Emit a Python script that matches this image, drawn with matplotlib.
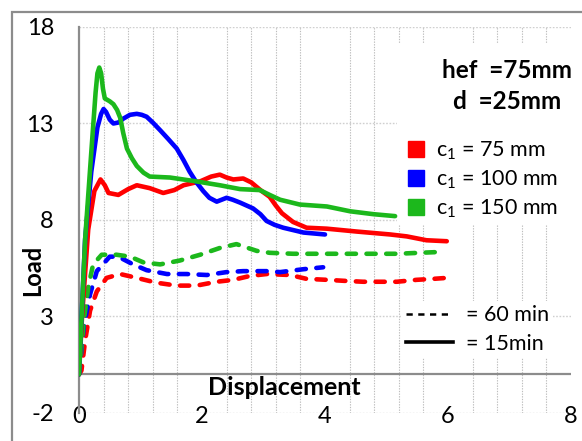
import matplotlib
matplotlib.use("Agg")
import matplotlib.pyplot as plt
from matplotlib.lines import Line2D
from matplotlib.patches import Rectangle

plt.rcParams['font.family'] = ['Lato', 'DejaVu Sans']
plt.rcParams['axes.unicode_minus'] = False

# --- data ---
# 15 min curves (solid)
x_red_15 = [0, 0.05, 0.15, 0.25, 0.35, 0.42, 0.48, 0.64, 0.8, 0.94, 1.15, 1.37, 1.55, 1.7, 1.97, 2.15, 2.29,
            2.4, 2.51, 2.67, 2.8, 2.95, 3.1, 3.2, 3.3, 3.48, 3.7, 4.03, 4.52, 5.06, 5.33, 5.65, 5.98]
y_red_15 = [0, 3, 7.5, 9.5, 10.1, 9.8, 9.4, 9.3, 9.6, 9.8, 9.65, 9.4, 9.55, 9.8, 10.0, 10.25, 10.35,
            10.2, 10.1, 10.15, 9.95, 9.55, 9.2, 8.75, 8.35, 7.9, 7.6, 7.55, 7.4, 7.25, 7.15, 6.95, 6.9]

x_blue_15 = [0, 0.1, 0.2, 0.3, 0.36, 0.4, 0.44, 0.5, 0.56, 0.64, 0.72, 0.83, 0.94, 1.02, 1.10, 1.2, 1.32,
             1.45, 1.59, 1.70, 1.80, 1.91, 2.02, 2.12, 2.24, 2.32, 2.40, 2.5, 2.62, 2.83, 2.95, 3.05,
             3.18, 3.32, 3.65, 4.0]
y_blue_15 = [0, 7, 10.5, 12.8, 13.5, 13.75, 13.6, 13.2, 13.0, 13.05, 13.25, 13.45, 13.5, 13.45, 13.35, 13.05, 12.65,
             12.2, 11.7, 11.1, 10.5, 9.95, 9.5, 9.15, 8.95, 9.05, 9.15, 9.05, 8.9, 8.6, 8.3, 7.95,
             7.75, 7.6, 7.35, 7.25]

x_green_15 = [0, 0.1, 0.2, 0.27, 0.30, 0.33, 0.36, 0.39, 0.42, 0.5, 0.56, 0.62, 0.67, 0.72, 0.78, 0.86, 0.94,
              1.05, 1.15, 1.48, 1.91, 2.29, 2.62, 2.94, 3.1, 3.27, 3.59, 4.03, 4.41, 4.79, 5.14]
y_green_15 = [0, 7, 11.5, 14.6, 15.6, 15.9, 15.6, 14.8, 14.3, 14.15, 14.0, 13.7, 13.3, 12.5, 11.7, 11.2, 10.8,
              10.45, 10.25, 10.2, 10.0, 9.8, 9.6, 9.55, 9.3, 9.05, 8.8, 8.7, 8.45, 8.3, 8.2]

# 60 min curves (dashed)
x_red_60 = [0, 0.04, 0.1, 0.18, 0.29, 0.45, 0.67, 0.94, 1.26, 1.59, 1.91, 2.24, 2.51, 2.78, 3.05, 3.43,
            3.70, 4.03, 4.3, 4.62, 5.17, 5.49, 5.76, 5.98]
y_red_60 = [0, 0.2, 1.75, 3.3, 4.3, 5.0, 5.2, 5.0, 4.75, 4.6, 4.6, 4.8, 4.9, 5.1, 5.2, 5.15,
            4.95, 4.9, 4.85, 4.8, 4.8, 4.9, 4.95, 5.0]

x_blue_60 = [0, 0.08, 0.18, 0.29, 0.5, 0.64, 0.88, 1.10, 1.43, 1.75, 2.08, 2.40, 2.67, 3.05, 3.27, 3.65, 3.97]
y_blue_60 = [0, 2.5, 4.15, 5.35, 6.1, 6.1, 5.7, 5.4, 5.2, 5.2, 5.15, 5.3, 5.35, 5.35, 5.3, 5.45, 5.55]

x_green_60 = [0, 0.08, 0.15, 0.23, 0.37, 0.61, 0.83, 1.05, 1.32, 1.64, 1.97, 2.29, 2.56, 2.89, 3.1, 3.48,
              4.03, 4.57, 5.17, 5.54, 5.92]
y_green_60 = [0, 2.8, 4.5, 5.7, 6.2, 6.2, 6.1, 5.8, 5.7, 5.9, 6.2, 6.55, 6.75, 6.4, 6.3, 6.25,
              6.25, 6.25, 6.25, 6.3, 6.35]

series_labels = ['75 mm', '100 mm', '150 mm']
colors = ['#FF0000', '#0000FF', '#1CB81C']
x_ticks = [0, 2, 4, 6, 8]
y_ticks = [-2, 3, 8, 13, 18]

fig = plt.figure(figsize=(5.82, 4.41), dpi=100)
ax = fig.add_axes([0.1357, 0.0635, 0.8454, 0.8753])

# outer chart border (only left/top visible in the crop)
fig.patches.append(Rectangle((12 / 582, -0.1), 1.2, 1.1 - 12 / 441, transform=fig.transFigure,
                             fill=False, edgecolor='#8c8c8c', linewidth=1.6))

lw = 3.3
curves_15 = [(x_red_15, y_red_15), (x_blue_15, y_blue_15), (x_green_15, y_green_15)]
curves_60 = [(x_red_60, y_red_60), (x_blue_60, y_blue_60), (x_green_60, y_green_60)]
for (xs, ys), c in zip(curves_60, colors):
    ax.plot(xs, ys, color=c, lw=lw, dashes=(2.0, 2.3), dash_capstyle='round',
            dash_joinstyle='round', zorder=3)
for (xs, ys), c in zip(curves_15, colors):
    ax.plot(xs, ys, color=c, lw=lw, solid_capstyle='round', solid_joinstyle='round', zorder=4)

ax.set_xlim(0, 8)
ax.set_ylim(-2, 18)
ax.set_xticks(x_ticks)
ax.set_yticks(y_ticks)
ax.set_xticks([i * 0.4 for i in range(21)], minor=True)
ax.tick_params(axis='both', which='both', length=0, labelsize=17)
ax.tick_params(axis='x', pad=-5)
ax.tick_params(axis='y', pad=18)

ax.grid(axis='y', which='major', color='#cfcfcf', linestyle=(0, (1.2, 1.2)), lw=1)
ax.grid(axis='x', which='minor', color='#bdbdbd', linestyle=(0, (1.2, 1.2)), lw=0.8)
ax.set_axisbelow(True)

for s in ['top', 'right', 'bottom']:
    ax.spines[s].set_visible(False)
ax.spines['left'].set_color('#8c8c8c')
ax.spines['left'].set_linewidth(1.6)
ax.axhline(0, color='#8c8c8c', lw=1.6, zorder=2)

ax.text(-0.0935, 0.37, 'Load', transform=ax.transAxes, rotation=90, ha='center', va='center',
        fontsize=17, fontweight='bold')
ax.text(0.417, 0.065, 'Displacement', transform=ax.transAxes, ha='center', va='center',
        fontsize=18, fontweight='bold')

# white background behind the annotation block on the right
ax.add_patch(Rectangle((0.646, 0.487), 0.4, 0.47, transform=ax.transAxes,
                       facecolor='white', edgecolor='none', zorder=1))

ax.text(0.870, 0.886, 'hef  =75mm', transform=ax.transAxes, ha='center', va='center',
        fontsize=17.5, fontweight='bold', zorder=5)
ax.text(0.870, 0.808, 'd  =25mm', transform=ax.transAxes, ha='center', va='center',
        fontsize=17.5, fontweight='bold', zorder=5)

color_handles = [Line2D([], [], marker='s', linestyle='none', markersize=12,
                        markerfacecolor=c, markeredgecolor=c) for c in colors]
leg1 = ax.legend(color_handles, [r'$\mathregular{c_1}$ = ' + s for s in series_labels],
                 loc='upper left', bbox_to_anchor=(0.668, 0.708), frameon=False,
                 fontsize=15.5, handlelength=0.8, handletextpad=0.5, labelspacing=0.3,
                 borderpad=0, borderaxespad=0)
ax.add_artist(leg1)

style_handles = [Line2D([], [], color='black', lw=1.8, dashes=(2.5, 2.2)),
                 Line2D([], [], color='black', lw=2.6)]
leg2 = ax.legend(style_handles, ['= 60 min', '= 15min'], loc='upper left',
                 bbox_to_anchor=(0.655, 0.29), frameon=True, facecolor='white',
                 edgecolor='none', framealpha=1, fontsize=15.5, handlelength=2.2,
                 handletextpad=0.6, labelspacing=0.4, borderpad=0.2, borderaxespad=0)

fig.savefig('out.png', dpi=100)
